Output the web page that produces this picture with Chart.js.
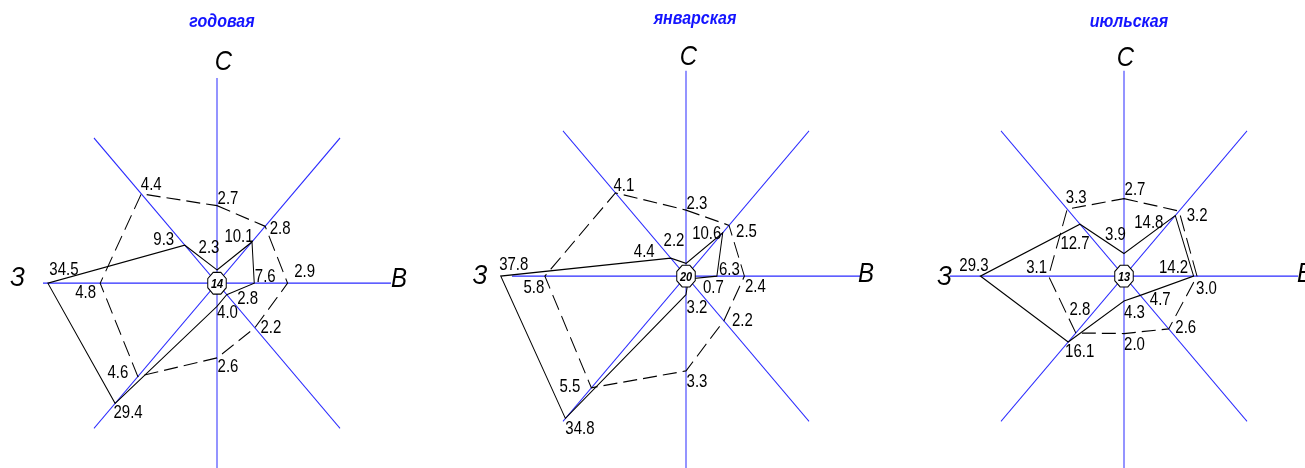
<!DOCTYPE html>
<html lang="ru">
<head>
<meta charset="utf-8">
<title>Розы ветров</title>
<script src="https://cdn.jsdelivr.net/npm/chart.js@4.4.1/dist/chart.umd.min.js"></script>
<style>
    html, body { margin: 0; padding: 0; background: #fff; }
    #wrap { position: relative; width: 1305px; height: 468px; overflow: hidden; }
    #wrap canvas { position: absolute; left: 0; top: 0; }
</style>
</head>
<body>
<div id="wrap">
    <canvas id="rose-year" width="1305" height="468"></canvas>
    <canvas id="rose-jan" width="1305" height="468"></canvas>
    <canvas id="rose-jul" width="1305" height="468"></canvas>
</div>
<script>
/* ============================================
   Розы ветров: годовая, январская, июльская
   сплошная — повторяемость, %; штрих — скорость, м/с
   ============================================ */

const directions = ['С', 'СВ', 'В', 'ЮВ', 'Ю', 'ЮЗ', 'З', 'СЗ'];
const titles = ['годовая', 'январская', 'июльская'];
const calm = [14, 20, 13];

const yearFreq  = [2.3, 10.1, 7.6, 2.8, 4.0, 29.4, 34.5, 9.3];
const yearSpeed = [2.7, 2.8, 2.9, 2.2, 2.6, 4.6, 4.8, 4.4];

const janFreq  = [2.2, 10.6, 6.3, 0.7, 3.2, 34.8, 37.8, 4.4];
const janSpeed = [2.3, 2.5, 2.4, 2.2, 3.3, 5.5, 5.8, 4.1];

const julFreq  = [3.9, 14.8, 14.2, 4.7, 4.3, 16.1, 29.3, 12.7];
const julSpeed = [2.7, 3.2, 3.0, 2.6, 2.0, 2.8, 3.1, 3.3];

// шкалы
const FREQ_MAX = 35.5;
const SPEED_MAX = 7.15;

// оформление
const STRETCH = 1.18;          // чертёж вытянут по вертикали
const RADIUS = 174;
const CALM_R = 10;
const AXIS_BLUE = '#2a2aff';
const TITLE_BLUE = '#1414ff';
const TITLE_FONT = 'bold italic 16px "Liberation Sans", Arial, sans-serif';
const DIR_FONT = 'italic 24px "Liberation Sans", Arial, sans-serif';
const VALUE_FONT = '15px "Liberation Sans Narrow", "Liberation Sans", sans-serif';
const CALM_FONT = 'bold italic 11px "Liberation Sans", Arial, sans-serif';

// подписи: сдвиг от вершины, px экрана (С, СВ, В, ЮВ, Ю, ЮЗ, З, СЗ)
const yearFreqOffsets  = [[-8, -23.5], [-13, -6.5], [11, -7.5], [21, 2.5], [10.5, 5.5], [13, 8.5], [16, -15], [-21, -6.5]];
const yearSpeedOffsets = [[11, -8.5], [15, 1], [17, -13], [16, -1], [11, 7.5], [-20, -5], [-14.5, 8], [10, -10]];
const janFreqOffsets   = [[-12, -24], [-16, 0], [12.5, -7], [25, 8], [11, 12.5], [14.5, 9], [13, -12.5], [-26.5, -7]];
const janSpeedOffsets  = [[11, -7], [17.5, 5], [11, 9.5], [18.5, -1.5], [11, 10], [-21.5, -2], [-11, 10.5], [8.5, -8]];
const julFreqOffsets   = [[-8.5, -20], [-26.5, 6], [-20, -9.5], [20, 3.5], [10.5, 11], [11.5, 9], [-6.5, -11], [-5, 18]];
const julSpeedOffsets  = [[11, -10], [18, 3.5], [9.5, 11.5], [17, -2.5], [10.5, 10], [4, -24.5], [-12, -9.5], [9, -12.5]];

function roseMarks(cfg) {
    return {
        id: 'roseMarks',
        beforeDraw(chart) {
            chart.ctx.save();
            chart.ctx.scale(1, STRETCH);
        },
        afterDraw(chart) {
            const ctx = chart.ctx;
            const r = chart.scales.r;
            const cx = r.xCenter, cy = r.yCenter;
            // текст по центру глифа; y — в координатах экрана
            const put = (text, x, yScreen, font, capH) => {
                ctx.font = font;
                ctx.fillText(text, x, yScreen / STRETCH + capH / 2);
            };
            ctx.textAlign = 'center';
            ctx.textBaseline = 'alphabetic';

            ctx.fillStyle = TITLE_BLUE;
            ctx.font = TITLE_FONT;
            ctx.fillText(cfg.title, cfg.titleAt[0], cfg.titleAt[1] / STRETCH);

            ctx.fillStyle = '#000';
            Object.entries(cfg.dirOffsets).forEach(([i, [dx, dy]]) => {
                put(chart.data.labels[i], cx + dx, cy * STRETCH + dy, DIR_FONT, 17);
            });

            cfg.offsets.forEach((offsets, di) => {
                const values = chart.data.datasets[di].data;
                chart.getDatasetMeta(di).data.forEach((pt, i) => {
                    const [dx, dy] = offsets[i];
                    put(values[i].toFixed(1), pt.x + dx, pt.y * STRETCH + dy, VALUE_FONT, 10.8);
                });
            });

            // штиль
            ctx.beginPath();
            for (let k = 0; k < 8; k++) {
                const a = Math.PI / 8 + k * Math.PI / 4;
                const px = cx + CALM_R * Math.cos(a), py = cy + CALM_R * Math.sin(a);
                if (k) ctx.lineTo(px, py); else ctx.moveTo(px, py);
            }
            ctx.closePath();
            ctx.fillStyle = '#fff';
            ctx.fill();
            ctx.strokeStyle = '#000';
            ctx.lineWidth = 1;
            ctx.stroke();
            ctx.fillStyle = '#000';
            put(String(cfg.calm), cx, cy * STRETCH, CALM_FONT, 7.9);

            ctx.restore();
        }
    };
}

function buildRose(canvasId, cfg) {
    const cyc = cfg.center[1] / STRETCH;
    return new Chart(document.getElementById(canvasId), {
        type: 'radar',
        data: {
            labels: directions,
            datasets: [
                { label: 'Повторяемость, %', data: cfg.freq, rAxisID: 'r', borderColor: '#000', borderWidth: 1, pointRadius: 0, fill: false, clip: false },
                { label: 'Скорость, м/с', data: cfg.speed, rAxisID: 'v', borderColor: '#000', borderWidth: 1, borderDash: [14, 6], pointRadius: 0, fill: false, clip: false }
            ]
        },
        options: {
            responsive: false,
            animation: false,
            events: [],
            devicePixelRatio: 1,
            layout: {
                padding: {
                    left: cfg.center[0] - RADIUS,
                    right: 1305 - cfg.center[0] - RADIUS,
                    top: Math.round(cyc - RADIUS),
                    bottom: 468 - Math.round(cyc - RADIUS) - 2 * RADIUS
                }
            },
            plugins: { legend: { display: false }, tooltip: { enabled: false }, title: { display: false } },
            scales: {
                r: {
                    min: 0, max: FREQ_MAX,
                    grid: { display: false },
                    ticks: { display: false },
                    pointLabels: { display: false },
                    angleLines: { display: true, color: AXIS_BLUE, lineWidth: 1 }
                },
                v: {
                    type: 'radialLinear',
                    axis: 'r',
                    min: 0, max: SPEED_MAX,
                    grid: { display: false },
                    ticks: { display: false },
                    pointLabels: { display: false },
                    angleLines: { display: false }
                }
            }
        },
        plugins: [roseMarks(cfg)]
    });
}

buildRose('rose-year', {
    title: titles[0], titleAt: [222, 27.5], center: [217, 283], calm: calm[0],
    freq: yearFreq, speed: yearSpeed, offsets: [yearFreqOffsets, yearSpeedOffsets],
    dirOffsets: { 0: [6.5, -223], 2: [182, -6], 6: [-199.5, -7.5] }
});
buildRose('rose-jan', {
    title: titles[1], titleAt: [695, 24], center: [686, 276], calm: calm[1],
    freq: janFreq, speed: janSpeed, offsets: [janFreqOffsets, janSpeedOffsets],
    dirOffsets: { 0: [2.5, -221.5], 2: [180, -4], 6: [-206, -2.5] }
});
buildRose('rose-jul', {
    title: titles[2], titleAt: [1129, 27], center: [1124, 276], calm: calm[2],
    freq: julFreq, speed: julSpeed, offsets: [julFreqOffsets, julSpeedOffsets],
    dirOffsets: { 0: [1.5, -220], 2: [181, -4], 6: [-179.5, -1] }
});
</script>
</body>
</html>
